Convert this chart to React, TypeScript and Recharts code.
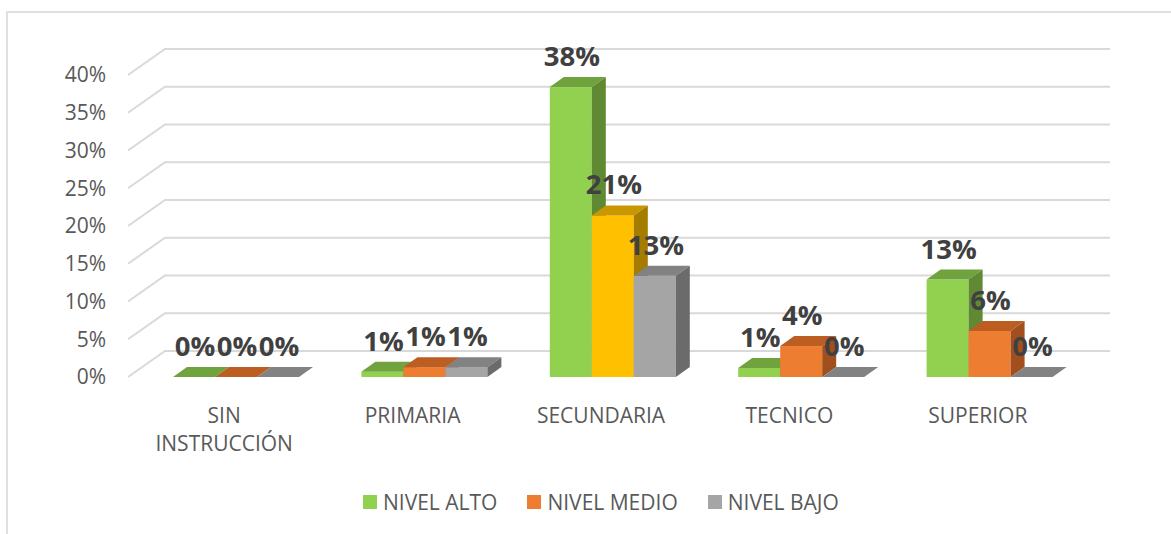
import React from "react";
import { BarChart, Bar, XAxis, YAxis, CartesianGrid, LabelList, Cell, Text } from "recharts";

const categorias = ["SIN INSTRUCCIÓN", "PRIMARIA", "SECUNDARIA", "TECNICO", "SUPERIOR"];
const nivelAlto = [0, 0.7, 38.4, 1.2, 12.9];
const nivelMedio = [0, 1.3, 21.4, 4.1, 6.1];
const nivelBajo = [0, 1.3, 13.4, 0, 0];
const yTicks = [0, 5, 10, 15, 20, 25, 30, 35, 40];
const series = ["NIVEL ALTO", "NIVEL MEDIO", "NIVEL BAJO"];
const destacado = "SECUNDARIA";

const VERDE = "#92D050";
const NARANJA = "#ED7D31";
const GRIS = "#A5A5A5";
const AMARILLO = "#FFC000";
const colores = [VERDE, NARANJA, GRIS];

// top / side shade for each front colour
const sombras: Record<string, [string, string]> = {
    [VERDE]: ["#70A23E", "#5F8A33"],
    [NARANJA]: ["#BC5E22", "#A1501D"],
    [GRIS]: ["#828282", "#6B6B6B"],
    [AMARILLO]: ["#C99700", "#A57B00"]
};

const FONT = "'Open Sans', sans-serif";
const SHIFT = 12;
const DX = 14;
const DY = 10;

const data = categorias.map((c, i) => ({
    name: c,
    alto: nivelAlto[i],
    medio: nivelMedio[i],
    bajo: nivelBajo[i]
}));

function Bar3D(props: any) {
    const { x, y, width, height, fill } = props;
    if (x == null || y == null) return null;
    const [top, side] = sombras[fill] || [fill, fill];
    const x0 = x + SHIFT;
    const base = y + height;
    return (
        <g>
            {height > 0 && <rect x={x0} y={y} width={width} height={height} fill={fill} />}
            <polygon points={`${x0},${y} ${x0 + width},${y} ${x0 + width + DX},${y - DY} ${x0 + DX},${y - DY}`} fill={top} />
            <polygon
                points={`${x0 + width},${y} ${x0 + width + DX},${y - DY} ${x0 + width + DX},${base - DY} ${x0 + width},${base}`}
                fill={side}
            />
        </g>
    );
}

function Etiqueta(props: any) {
    const { x, y, width, value } = props;
    return (
        <text
            x={x + SHIFT + width / 2 + 1}
            y={y - 21}
            textAnchor="middle"
            fontFamily={FONT}
            fontWeight={700}
            fontSize={27.5}
            fill="#404040"
        >
            {Math.round(value)}%
        </text>
    );
}

function LineaGrid(props: any) {
    const { x1, y1, x2 } = props;
    return (
        <path
            d={`M${x1 - 2},${y1} L${x1 + 35},${y1 - 26} L${x2 + 38},${y1 - 26}`}
            stroke="#D9D9D9"
            strokeWidth={2}
            fill="none"
        />
    );
}

function TickX(props: any) {
    const { x, payload } = props;
    return (
        <Text
            x={x}
            y={408}
            width={130}
            textAnchor="middle"
            verticalAnchor="start"
            lineHeight={28}
            fontFamily={FONT}
            fontSize={21}
            fill="#595959"
        >
            {payload.value}
        </Text>
    );
}

function App() {
    return (
        <div style={{ position: "absolute", left: 0, top: 0, width: 1171, height: 534, background: "#fff", overflow: "hidden" }}>
            <div
                style={{
                    position: "absolute",
                    left: 6,
                    top: 11,
                    width: 1180,
                    height: 540,
                    border: "2px solid #E0E0E0",
                    boxSizing: "border-box"
                }}
            />
            <div style={{ position: "absolute", left: 0, top: 0 }}>
                <BarChart width={1171} height={534} data={data} margin={{ top: 75, right: 99, left: 10, bottom: 97 }} barGap={0} barSize={42}>
                    <CartesianGrid vertical={false} horizontal={(p: any) => <LineaGrid key={p.key ?? p.index} {...p} />} />
                    <XAxis dataKey="name" axisLine={false} tickLine={false} height={60} interval={0} tick={<TickX />} />
                    <YAxis
                        domain={[0, 40]}
                        ticks={yTicks}
                        axisLine={false}
                        tickLine={false}
                        tickSize={0}
                        tickMargin={24}
                        width={120}
                        tickFormatter={(v: number) => `${v}%`}
                        tick={{ fill: "#595959", fontSize: 21, fontFamily: FONT }}
                    />
                    <Bar dataKey="alto" fill={VERDE} shape={<Bar3D />} isAnimationActive={false}>
                        <LabelList dataKey="alto" content={<Etiqueta />} />
                    </Bar>
                    <Bar dataKey="medio" fill={NARANJA} shape={<Bar3D />} isAnimationActive={false}>
                        {data.map((d) => (
                            <Cell key={d.name} fill={d.name === destacado ? AMARILLO : NARANJA} />
                        ))}
                        <LabelList dataKey="medio" content={<Etiqueta />} />
                    </Bar>
                    <Bar dataKey="bajo" fill={GRIS} shape={<Bar3D />} isAnimationActive={false}>
                        <LabelList dataKey="bajo" content={<Etiqueta />} />
                    </Bar>
                </BarChart>
            </div>
            <div
                style={{
                    position: "absolute",
                    left: 363,
                    top: 488,
                    display: "flex",
                    alignItems: "center",
                    fontFamily: FONT,
                    fontSize: 21,
                    color: "#595959",
                    whiteSpace: "nowrap"
                }}
            >
                {series.map((s, i) => (
                    <div key={s} style={{ display: "flex", alignItems: "center", marginRight: 30 }}>
                        <span style={{ display: "inline-block", width: 14, height: 14, background: colores[i], marginRight: 6 }} />
                        <span>{s}</span>
                    </div>
                ))}
            </div>
        </div>
    );
}

export default App;
